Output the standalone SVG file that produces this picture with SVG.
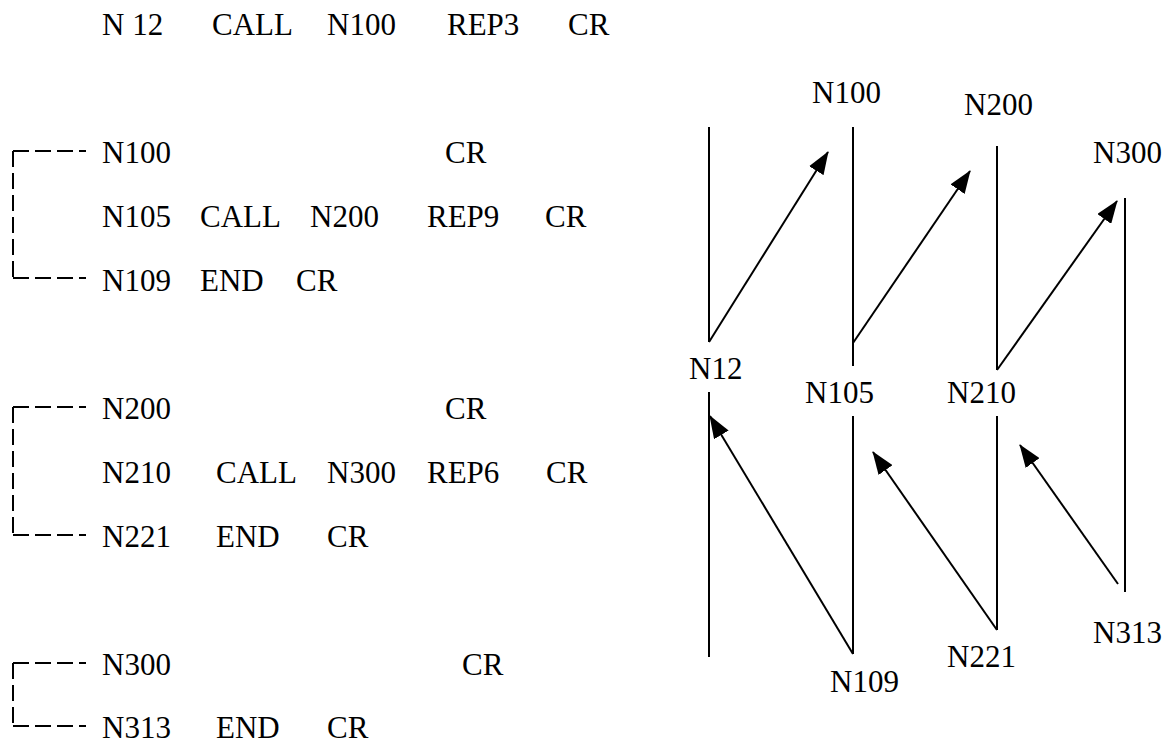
<svg xmlns="http://www.w3.org/2000/svg" width="1175" height="743" viewBox="0 0 1175 743">
<style>
text{font-family:"Liberation Serif","Times New Roman",serif;font-size:31px;fill:#000}
.ln{stroke:#000;stroke-width:2;fill:none}
.ar{stroke:#000;stroke-width:2;fill:none;marker-end:url(#ah)}
.br{stroke:#000;stroke-width:2;fill:none;stroke-dasharray:16 6}
</style>
<defs>
<marker id="ah" markerUnits="userSpaceOnUse" markerWidth="23" markerHeight="17" viewBox="0 0 23 17" refX="22" refY="8.5" orient="auto">
<path d="M0,0 L23,8.5 L0,17 z" fill="#000"/>
</marker>
</defs>
<rect width="1175" height="743" fill="#fff"/>
<g id="program">
<g id="row-main"><text x="102" y="35">N 12</text><text x="212" y="35">CALL</text><text x="327" y="35">N100</text><text x="447" y="35">REP3</text><text x="568" y="35">CR</text></g>
<g id="sub1">
<text x="102" y="163">N100</text><text x="445" y="163">CR</text>
<text x="102" y="227">N105</text><text x="200" y="227">CALL</text><text x="310" y="227">N200</text><text x="427" y="227">REP9</text><text x="545" y="227">CR</text>
<text x="102" y="291">N109</text><text x="200" y="291">END</text><text x="296" y="291">CR</text>
<path class="br" d="M13,151 H86 M13,278 H86 M13,151 V278"/>
</g>
<g id="sub2">
<text x="102" y="419">N200</text><text x="445" y="419">CR</text>
<text x="102" y="483">N210</text><text x="216" y="483">CALL</text><text x="327" y="483">N300</text><text x="427" y="483">REP6</text><text x="546" y="483">CR</text>
<text x="102" y="547">N221</text><text x="216" y="547">END</text><text x="327" y="547">CR</text>
<path class="br" d="M13,407 H86 M13,535 H86 M13,407 V535"/>
</g>
<g id="sub3">
<text x="102" y="675">N300</text><text x="462" y="675">CR</text>
<text x="102" y="738">N313</text><text x="216" y="738">END</text><text x="327" y="738">CR</text>
<path class="br" d="M13,663 H86 M13,726 H86 M13,663 V726"/>
</g>
</g>
<g id="node-N12"><line class="ln" x1="709" y1="127" x2="709" y2="342"/><line class="ln" x1="709" y1="392" x2="709" y2="657"/><text x="689" y="379">N12</text></g>
<g id="node-N100"><line class="ln" x1="853" y1="127" x2="853" y2="366"/><line class="ln" x1="853" y1="416" x2="853" y2="654"/><text x="812" y="103">N100</text><text x="805" y="403">N105</text><text x="830" y="692">N109</text></g>
<g id="node-N200"><line class="ln" x1="997" y1="146" x2="997" y2="370"/><line class="ln" x1="997" y1="416" x2="997" y2="630"/><text x="964" y="115">N200</text><text x="947" y="403">N210</text><text x="947" y="667">N221</text></g>
<g id="node-N300"><line class="ln" x1="1125" y1="198" x2="1125" y2="592"/><text x="1093" y="163">N300</text><text x="1093" y="643">N313</text></g>
<g id="connectors">
<line class="ar" x1="709" y1="342" x2="828" y2="152"/>
<line class="ar" x1="853" y1="343" x2="970" y2="171"/>
<line class="ar" x1="997" y1="370" x2="1117" y2="201"/>
<line class="ar" x1="853" y1="654" x2="710" y2="416"/>
<line class="ar" x1="997" y1="630" x2="873" y2="452"/>
<line class="ar" x1="1118" y1="584" x2="1020" y2="445"/>
</g>
</svg>
